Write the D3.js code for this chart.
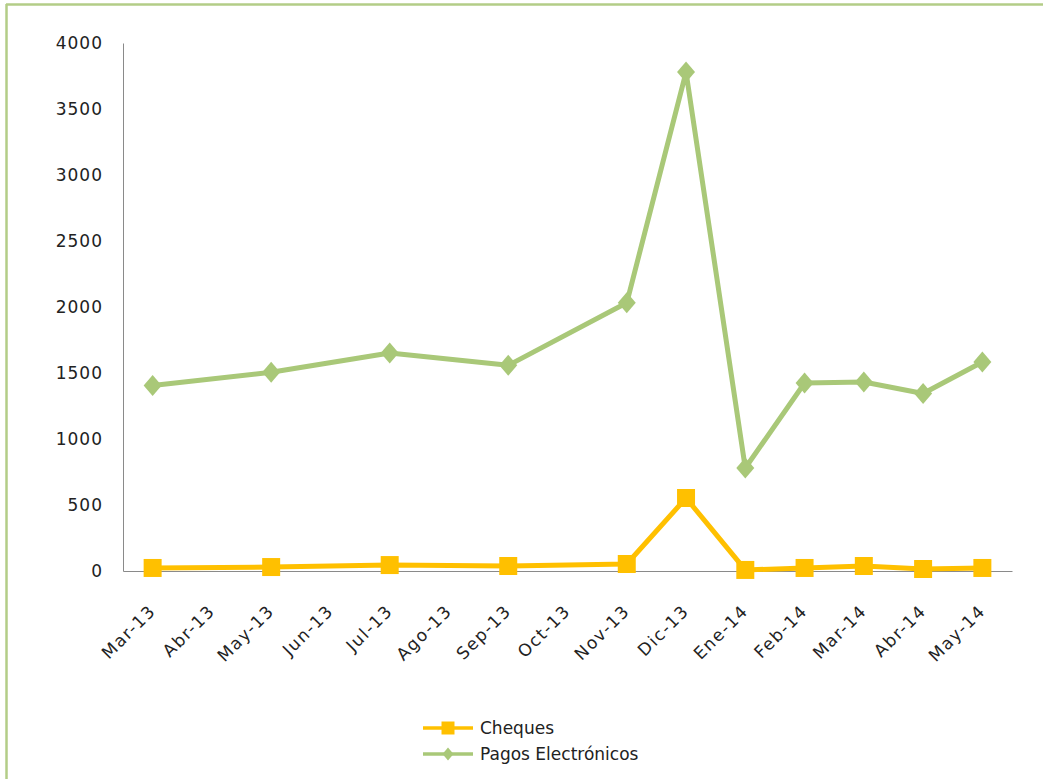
<!DOCTYPE html>
<html><head><meta charset="utf-8">
<script src="https://cdn.jsdelivr.net/npm/d3@7"></script>
<style>html,body{margin:0;padding:0;background:#fff;}svg{display:block;}</style>
</head><body>
<script>
const categories = ["Mar-13","Abr-13","May-13","Jun-13","Jul-13","Ago-13","Sep-13","Oct-13","Nov-13","Dic-13","Ene-14","Feb-14","Mar-14","Abr-14","May-14"];
const cheques = [23,null,30,null,45,null,38,null,53,553,8,23,38,15,23];
const pagosElectronicos = [1405,null,1505,null,1652,null,1558,null,2032,3780,780,1424,1432,1345,1583];
const yTicks = [0,500,1000,1500,2000,2500,3000,3500,4000];
const seriesNames = ["Cheques","Pagos Electrónicos"];

const W = 1043, H = 779;
const FONT = "'DejaVu Sans', Verdana, sans-serif";
const svg = d3.select("body").append("svg").attr("width", W).attr("height", H);

// frame
svg.append("line").attr("x1",6).attr("x2",W).attr("y1",4.5).attr("y2",4.5).attr("stroke","#b3cd87").attr("stroke-width",2.5);
svg.append("line").attr("x1",6.5).attr("x2",6.5).attr("y1",4).attr("y2",H).attr("stroke","#b3cd87").attr("stroke-width",2.5);

const x = d3.scaleBand().domain(categories).range([123,1012]);
const y = d3.scaleLinear().domain([0,4000]).range([571,43]);
const cx = c => x(c) + x.bandwidth()/2;

// y axis
const yAxis = svg.append("g").attr("transform","translate(123,0)")
  .call(d3.axisLeft(y).tickValues(yTicks).tickSize(0).tickPadding(20).tickFormat(d3.format("d")));
yAxis.select(".domain").attr("stroke","#8a8a8a");
yAxis.selectAll("text").attr("font-family",FONT).attr("font-size",17).attr("fill","#222").attr("letter-spacing","1px");

// x axis
const xAxis = svg.append("g").attr("transform","translate(0,571)")
  .call(d3.axisBottom(x).tickSize(0).tickFormat(d=>d));
xAxis.select(".domain").attr("stroke","#8a8a8a");
xAxis.selectAll("text")
  .attr("font-family",FONT).attr("font-size",17).attr("fill","#222").attr("letter-spacing","1.5px")
  .attr("text-anchor","end").attr("y",0).attr("dy",0)
  .attr("transform","translate(4,41) rotate(-45)");

const GREEN = "#a9c878", YELLOW = "#ffc000";

function drawSeries(vals, color, shape){
  const pts = categories.map((c,i)=>({c, v: vals[i]})).filter(d=>d.v!==null);
  svg.append("path").datum(pts)
    .attr("fill","none").attr("stroke",color).attr("stroke-width",5).attr("stroke-linejoin","round")
    .attr("d", d3.line().x(d=>cx(d.c)).y(d=>y(d.v)));
  svg.append("g").selectAll("path").data(pts).join("path")
    .attr("transform", d=>`translate(${cx(d.c)},${y(d.v)})`)
    .attr("fill",color)
    .attr("d", shape);
}
const square = s => `M${-s/2},${-s/2}H${s/2}V${s/2}H${-s/2}Z`;
const diamond = (w,h) => `M0,${-h/2}L${w/2},0L0,${h/2}L${-w/2},0Z`;

drawSeries(cheques, YELLOW, square(18));
drawSeries(pagosElectronicos, GREEN, diamond(18,21));

// legend
const leg = svg.append("g");
const legRows = [{name:seriesNames[0], color:YELLOW, shape:square(13), y:728},
                 {name:seriesNames[1], color:GREEN, shape:diamond(11,13), y:754}];
legRows.forEach(r=>{
  leg.append("line").attr("x1",423).attr("x2",473).attr("y1",r.y).attr("y2",r.y).attr("stroke",r.color).attr("stroke-width",3.5);
  leg.append("path").attr("transform",`translate(448,${r.y})`).attr("fill",r.color).attr("d",r.shape);
  leg.append("text").attr("x",480).attr("y",r.y).attr("dy","0.35em").attr("font-family",FONT).attr("font-size",17).attr("fill","#222").text(r.name);
});
</script>
</body></html>
